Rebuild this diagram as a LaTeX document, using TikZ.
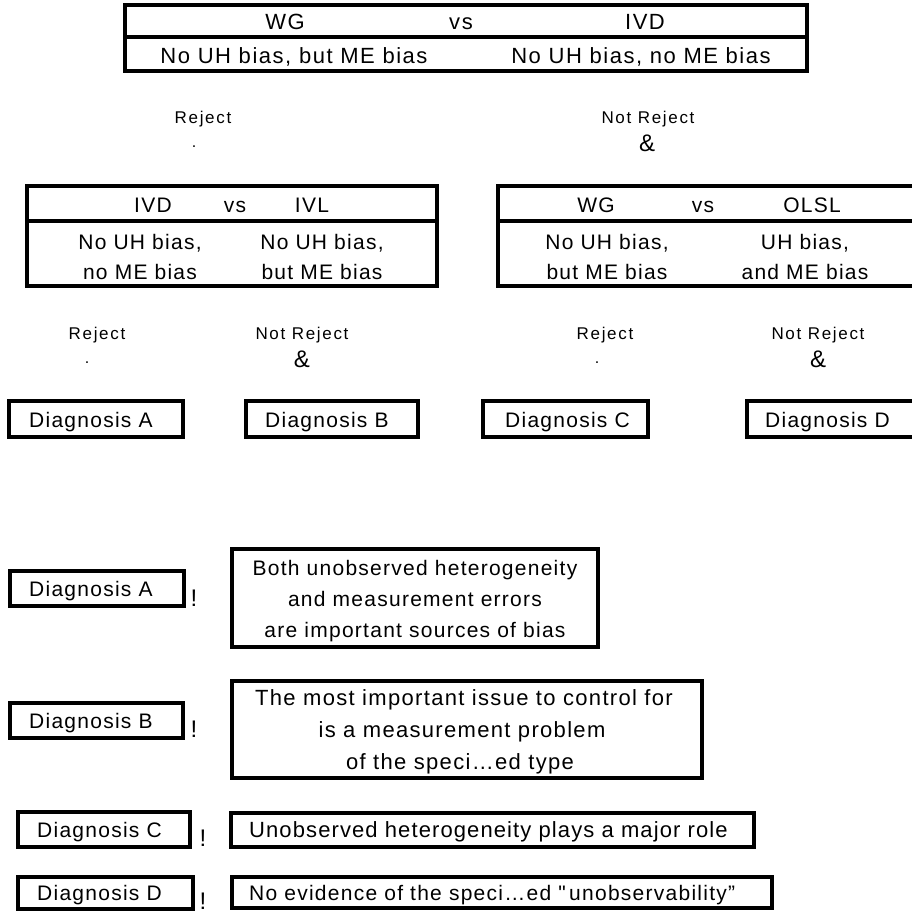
\documentclass[tikz,border=0pt]{standalone}
\usepackage{fontspec}
\setmainfont{Liberation Sans}
\newfontfamily\boxf[LetterSpace=6]{Liberation Sans}
\newfontfamily\boxg[LetterSpace=5]{Liberation Sans}
\newfontfamily\topf[LetterSpace=7]{Liberation Sans}
\newfontfamily\labf[LetterSpace=10]{Liberation Sans}
\begin{document}
\begin{tikzpicture}[x=1pt,y=-1pt,
  bx/.style={draw, line width=3.2pt, inner sep=0pt},
  ln/.style={line width=3.2pt},
  tt/.style={inner sep=0pt, anchor=base, font=\topf\fontsize{22}{30}\selectfont},
  bt/.style={inner sep=0pt, anchor=base, font=\boxf\fontsize{21}{30}\selectfont},
  bb/.style={inner sep=0pt, anchor=base, font=\boxf\fontsize{22}{30}\selectfont},
  dt/.style={inner sep=0pt, anchor=base west, font=\boxf\fontsize{21}{30}\selectfont},
  dg/.style={inner sep=0pt, anchor=base west, font=\boxg\fontsize{22}{30}\selectfont},
  lab/.style={inner sep=0pt, anchor=base, font=\labf\fontsize{17}{20}\selectfont},
  amp/.style={inner sep=0pt, anchor=base, font=\fontsize{24}{28}\selectfont},
  dot/.style={inner sep=0pt, anchor=base, font=\fontsize{16}{18}\selectfont},
  exc/.style={inner sep=0pt, anchor=base, font=\fontsize{24}{28}\selectfont}]
\useasboundingbox (0,0) rectangle (912,913);
\clip (0,0) rectangle (912,913);
\fill[white] (0,0) rectangle (912,913);

% top comparison box
\node[bx, minimum width=682pt, minimum height=66pt] (top) at (466,38) {};
\draw[ln] (125,37) -- (807,37);
\node[tt] (topWG) at (285,29) {WG};
\node[tt] (topvs) at (461,29) {vs};
\node[tt] (topIVD) at (645,29) {IVD};
\node[tt] (topL) at (294,63) {No UH bias, but ME bias};
\node[tt] (topR) at (641,63) {No UH bias, no ME bias};

\node[lab] (rej1) at (203,123) {Reject};
\node[dot] (rej1s) at (194,147) {.};
\node[lab] (nrej1) at (648,123) {Not Reject};
\node[amp] (nrej1s) at (647,151) {\&};

% second row boxes
\node[bx, minimum width=410pt, minimum height=100pt] (boxL) at (232,236) {};
\draw[ln] (27,221) -- (437,221);
\node[bt] (lIVD) at (153,212) {IVD};
\node[bt] (lvs) at (235,212) {vs};
\node[bt] (lIVL) at (312,212) {IVL};
\node[bt] (lc1a) at (140,249) {No UH bias,};
\node[bt] (lc1b) at (140,279) {no ME bias};
\node[bt] (lc2a) at (322,249) {No UH bias,};
\node[bt] (lc2b) at (322,279) {but ME bias};

\node[bx, minimum width=432pt, minimum height=100pt] (boxR) at (714,236) {};
\draw[ln] (498,221) -- (930,221);
\node[bt] (rWG) at (596,212) {WG};
\node[bt] (rvs) at (703,212) {vs};
\node[bt] (rOLSL) at (812,212) {OLSL};
\node[bt] (rc1a) at (607,249) {No UH bias,};
\node[bt] (rc1b) at (607,279) {but ME bias};
\node[bt] (rc2a) at (805,249) {UH bias,};
\node[bt] (rc2b) at (805,279) {and ME bias};

\node[lab] (rej2) at (97,339) {Reject};
\node[dot] (rej2s) at (87,363) {.};
\node[lab] (nrej2) at (302,339) {Not Reject};
\node[amp] (nrej2s) at (302,367) {\&};
\node[lab] (rej3) at (605,339) {Reject};
\node[dot] (rej3s) at (597,363) {.};
\node[lab] (nrej3) at (818,339) {Not Reject};
\node[amp] (nrej3s) at (818,367) {\&};

% diagnosis row
\node[bx, minimum width=174pt, minimum height=36pt] (dA) at (96,419) {};
\node[dt] (dAt) at (29,427) {Diagnosis A};
\node[bx, minimum width=172pt, minimum height=36pt] (dB) at (332,419) {};
\node[dt] (dBt) at (265,427) {Diagnosis B};
\node[bx, minimum width=165pt, minimum height=36pt] (dC) at (565.5,419) {};
\node[dt] (dCt) at (505,427) {Diagnosis C};
\node[bx, minimum width=183pt, minimum height=36pt] (dD) at (838.5,419) {};
\node[dt] (dDt) at (765,427) {Diagnosis D};

% explanations
\node[bx, minimum width=174pt, minimum height=35pt] (eA) at (97,588.5) {};
\node[dt] (eAt) at (29,596) {Diagnosis A};
\node[exc] (xA) at (194,606) {!};
\node[bx, minimum width=366pt, minimum height=98pt] (tA) at (415,598) {};
\node[bt] (tA1) at (415,575.5) {Both unobserved heterogeneity};
\node[bt] (tA2) at (415,606.5) {and measurement errors};
\node[bt] (tA3) at (415,637.5) {are important sources of bias};

\node[bx, minimum width=173pt, minimum height=35pt] (eB) at (96.5,720.5) {};
\node[dt] (eBt) at (29,728) {Diagnosis B};
\node[exc] (xB) at (194,737) {!};
\node[bx, minimum width=470pt, minimum height=97pt] (tB) at (467,729.5) {};
\node[bb] (tB1) at (464,705.5) {The most important issue to control for};
\node[bb] (tB2) at (462,737.5) {is a measurement problem};
\node[bb] (tB3) at (460,769.5) {of the speci…ed type};

\node[bx, minimum width=172pt, minimum height=35pt] (eC) at (104,829.5) {};
\node[dt] (eCt) at (37,837) {Diagnosis C};
\node[exc] (xC) at (203,846) {!};
\node[bx, minimum width=523pt, minimum height=34pt] (tC) at (492.5,830) {};
\node[dg] (tCt) at (249,837.5) {Unobserved heterogeneity plays a major role};

\node[bx, minimum width=175pt, minimum height=32pt] (eD) at (105.5,893) {};
\node[dt] (eDt) at (37,900.5) {Diagnosis D};
\node[exc] (xD) at (203,909) {!};
\node[bx, minimum width=540pt, minimum height=31pt] (tD) at (502,892.5) {};
\node[dt] (tDt) at (249,900) {No evidence of the speci…ed "\,unobservability”};
\end{tikzpicture}
\end{document}
